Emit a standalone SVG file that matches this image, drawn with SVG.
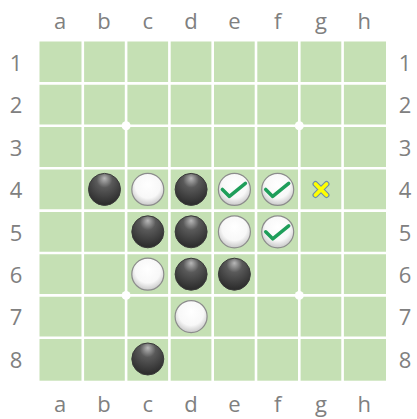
<svg xmlns="http://www.w3.org/2000/svg" width="417" height="419" viewBox="0 0 417 419">
<defs>
<radialGradient id="gBlack" cx="0.5" cy="0.3" r="0.7" fx="0.5" fy="0.15">
<stop offset="0" stop-color="#b8b8b8"/>
<stop offset="0.35" stop-color="#5a5a5a"/>
<stop offset="1" stop-color="#2a2a2a"/>
</radialGradient>
<radialGradient id="gWhite" cx="0.5" cy="0.4" r="0.6" fx="0.5" fy="0.35">
<stop offset="0" stop-color="#ffffff"/>
<stop offset="0.65" stop-color="#f8f8f8"/>
<stop offset="1" stop-color="#c8c8c8"/>
</radialGradient>
<g id="black"><circle r="16" fill="url(#gBlack)" stroke="#3a3a3a" stroke-width="1"/></g>
<g id="white"><circle r="16" fill="url(#gWhite)" stroke="#8c8c8c" stroke-width="1.2"/></g>
<g id="check"><use href="#white"/><polyline points="-12,0 -5,7 11,-6" fill="none" stroke="#1e9e5a" stroke-width="3.5" stroke-linecap="round" stroke-linejoin="round"/></g>
</defs>
<style>
.lbl{font-family:"Open Sans","Noto Sans",sans-serif;font-size:22px;fill:#808080;text-anchor:middle}
.grid{stroke:#ffffff;stroke-width:2.6}
</style>
<rect width="417" height="419" fill="#ffffff"/>
<g id="board">
<rect x="39.5" y="41.5" width="346.5" height="339.2" fill="#c5e0b4"/>
<g class="grid">
<line x1="82.8" y1="41" x2="82.8" y2="381"/>
<line x1="126.1" y1="41" x2="126.1" y2="381"/>
<line x1="169.4" y1="41" x2="169.4" y2="381"/>
<line x1="212.7" y1="41" x2="212.7" y2="381"/>
<line x1="256" y1="41" x2="256" y2="381"/>
<line x1="299.3" y1="41" x2="299.3" y2="381"/>
<line x1="342.6" y1="41" x2="342.6" y2="381"/>
<line x1="39" y1="83.4" x2="387" y2="83.4"/>
<line x1="39" y1="125.8" x2="387" y2="125.8"/>
<line x1="39" y1="168.2" x2="387" y2="168.2"/>
<line x1="39" y1="210.6" x2="387" y2="210.6"/>
<line x1="39" y1="253" x2="387" y2="253"/>
<line x1="39" y1="295.4" x2="387" y2="295.4"/>
<line x1="39" y1="337.8" x2="387" y2="337.8"/>
</g>
<g fill="#ffffff">
<circle cx="126.1" cy="125.8" r="4.5"/>
<circle cx="299.3" cy="125.8" r="4.5"/>
<circle cx="126.1" cy="295.4" r="4.5"/>
<circle cx="299.3" cy="295.4" r="4.5"/>
</g>
</g>
<g id="labels">
<text class="lbl" x="60" y="29">a</text>
<text class="lbl" x="104" y="29">b</text>
<text class="lbl" x="147.8" y="29">c</text>
<text class="lbl" x="191.1" y="29">d</text>
<text class="lbl" x="234.4" y="29">e</text>
<text class="lbl" x="277.7" y="29">f</text>
<text class="lbl" x="321" y="29">g</text>
<text class="lbl" x="364.3" y="29">h</text>
<text class="lbl" x="60" y="412">a</text>
<text class="lbl" x="104" y="412">b</text>
<text class="lbl" x="147.8" y="412">c</text>
<text class="lbl" x="191.1" y="412">d</text>
<text class="lbl" x="234.4" y="412">e</text>
<text class="lbl" x="277.7" y="412">f</text>
<text class="lbl" x="321" y="412">g</text>
<text class="lbl" x="364.3" y="412">h</text>
<text class="lbl" x="16" y="71">1</text>
<text class="lbl" x="16" y="113.4">2</text>
<text class="lbl" x="16" y="155.8">3</text>
<text class="lbl" x="16" y="198.2">4</text>
<text class="lbl" x="16" y="240.6">5</text>
<text class="lbl" x="16" y="283">6</text>
<text class="lbl" x="16" y="325.4">7</text>
<text class="lbl" x="16" y="367.8">8</text>
<text class="lbl" x="405" y="71">1</text>
<text class="lbl" x="405" y="113.4">2</text>
<text class="lbl" x="405" y="155.8">3</text>
<text class="lbl" x="405" y="198.2">4</text>
<text class="lbl" x="405" y="240.6">5</text>
<text class="lbl" x="405" y="283">6</text>
<text class="lbl" x="405" y="325.4">7</text>
<text class="lbl" x="405" y="367.8">8</text>
</g>
<g id="b4"><use href="#black" x="104.5" y="189.4"/></g>
<g id="c4"><use href="#white" x="147.8" y="189.4"/></g>
<g id="d4"><use href="#black" x="191.1" y="189.4"/></g>
<g id="e4"><use href="#check" x="234.4" y="189.4"/></g>
<g id="f4"><use href="#check" x="277.7" y="189.4"/></g>
<g id="g4">
<g stroke-linecap="round">
<path d="M315.5,184 L326.5,195 M326.5,184 L315.5,195" stroke="#6f8fa8" stroke-width="6"/>
<path d="M315.5,184 L326.5,195 M326.5,184 L315.5,195" stroke="#ffff00" stroke-width="3.8"/>
</g>
</g>
<g id="c5"><use href="#black" x="147.8" y="231.8"/></g>
<g id="d5"><use href="#black" x="191.1" y="231.8"/></g>
<g id="e5"><use href="#white" x="234.4" y="231.8"/></g>
<g id="f5"><use href="#check" x="277.7" y="231.8"/></g>
<g id="c6"><use href="#white" x="147.8" y="274.2"/></g>
<g id="d6"><use href="#black" x="191.1" y="274.2"/></g>
<g id="e6"><use href="#black" x="234.4" y="274.2"/></g>
<g id="d7"><use href="#white" x="191.1" y="316.6"/></g>
<g id="c8"><use href="#black" x="147.8" y="359"/></g>
<g id="connectors"></g>
</svg>
